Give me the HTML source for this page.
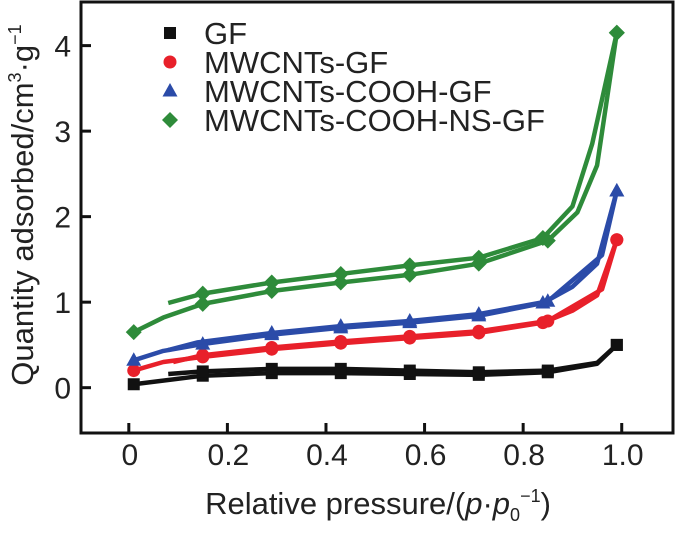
<!DOCTYPE html>
<html><head><meta charset="utf-8"><style>
body{margin:0;background:#fff}
svg{display:block;font-family:"Liberation Sans",Arial,sans-serif}
</style></head><body>
<svg id="c" width="677" height="534"></svg>
<script>
const xTicks=[0,0.2,0.4,0.6,0.8,1.0];
const xTickLabels=["0","0.2","0.4","0.6","0.8","1.0"];
const yTicks=[0,1,2,3,4];
const yTickLabels=["0","1","2","3","4"];
const seriesNames=["GF","MWCNTs-GF","MWCNTs-COOH-GF","MWCNTs-COOH-NS-GF"];
const markedX=[0.01,0.15,0.29,0.43,0.57,0.71,0.84,0.85,0.99];
const gfAdsX=[0.01,0.15,0.29,0.43,0.57,0.71,0.85,0.95,0.99];
const gfAdsY=[0.04,0.14,0.17,0.17,0.16,0.15,0.18,0.28,0.5];
const gfDesX=[0.99,0.95,0.85,0.71,0.57,0.43,0.29,0.15,0.08];
const gfDesY=[0.5,0.29,0.2,0.18,0.2,0.22,0.22,0.19,0.16];
const redAdsX=[0.01,0.07,0.15,0.29,0.43,0.57,0.71,0.84,0.9,0.95,0.99];
const redAdsY=[0.2,0.3,0.36,0.45,0.52,0.58,0.64,0.76,0.9,1.08,1.73];
const redDesX=[0.99,0.96,0.85,0.71,0.57,0.43,0.29,0.15,0.09];
const redDesY=[1.73,1.15,0.78,0.66,0.6,0.54,0.47,0.38,0.3];
const blueAdsX=[0.01,0.07,0.15,0.29,0.43,0.57,0.71,0.84,0.9,0.95,0.99];
const blueAdsY=[0.32,0.43,0.51,0.62,0.7,0.76,0.84,0.99,1.18,1.45,2.3];
const blueDesX=[0.99,0.96,0.85,0.71,0.57,0.43,0.29,0.14,0.08];
const blueDesY=[2.3,1.55,1.01,0.86,0.78,0.72,0.64,0.53,0.44];
const greenAdsX=[0.01,0.07,0.15,0.29,0.43,0.57,0.71,0.85,0.91,0.95,0.99];
const greenAdsY=[0.65,0.82,0.98,1.13,1.23,1.32,1.45,1.72,2.05,2.6,4.15];
const greenDesX=[0.99,0.94,0.9,0.84,0.71,0.57,0.43,0.29,0.15,0.08];
const greenDesY=[4.15,2.85,2.12,1.75,1.52,1.43,1.33,1.23,1.1,0.99];

const NS="http://www.w3.org/2000/svg";
const svg=document.getElementById('c');
const X0=81,X1=673,Y0=2,Y1=433;
const xmin=-0.097,xmax=1.104,ymin=-0.53,ymax=4.51;
const sx=v=>X0+(v-xmin)/(xmax-xmin)*(X1-X0);
const sy=v=>Y1-(v-ymin)/(ymax-ymin)*(Y1-Y0);
function mk(t,a,p){const e=document.createElementNS(NS,t);for(const k in a)e.setAttribute(k,a[k]);(p||svg).appendChild(e);return e;}

const frame=mk('rect',{x:X0,y:Y0,width:X1-X0,height:Y1-Y0,fill:'none',stroke:'#111','stroke-width':3});



xTicks.forEach((v,i)=>{
  const t=mk('line',{x1:sx(v),x2:sx(v),y1:Y1,y2:Y1-10,stroke:'#111','stroke-width':3});
  
  
  const l=mk('text',{x:sx(v)+1,y:465,'font-size':30,'text-anchor':'middle',fill:'#222'});
  l.textContent=xTickLabels[i];
  
  
});
yTicks.forEach((v,i)=>{
  const t=mk('line',{x1:X0,x2:X0+10,y1:sy(v),y2:sy(v),stroke:'#111','stroke-width':3});
  
  
  const l=mk('text',{x:71,y:sy(v)+11,'font-size':30,'text-anchor':'end',fill:'#222'});
  l.textContent=yTickLabels[i];
  
  
});

const xt=mk('text',{x:378,y:514,'font-size':31,'text-anchor':'middle',fill:'#222'});
xt.innerHTML='Relative pressure/(<tspan font-style="italic">p</tspan>·<tspan font-style="italic">p</tspan><tspan font-size="18" dy="7">0</tspan><tspan font-size="18" dy="-19">−1</tspan><tspan dy="12">)</tspan>';


const yt=mk('text',{x:0,y:0,'font-size':31,'text-anchor':'middle',fill:'#222',transform:'translate(33,205) rotate(-90)'});
yt.innerHTML='Quantity adsorbed/cm<tspan font-size="18" dy="-12">3</tspan><tspan dy="12">·g</tspan><tspan font-size="18" dy="-12">−1</tspan>';



const colors=['#111111','#e8202a','#2b4ba8','#2e8b3a'];
function marker(kind,x,y,c,g){
  let e;
  if(kind===0)e=mk('rect',{x:x-6,y:y-6,width:12,height:12,fill:c},g);
  else if(kind===1)e=mk('circle',{cx:x,cy:y,r:6.5,fill:c},g);
  else if(kind===2)e=mk('polygon',{points:`${x},${y-8} ${x+7.5},${y+5.5} ${x-7.5},${y+5.5}`,fill:c},g);
  else e=mk('polygon',{points:`${x},${y-8} ${x+8},${y} ${x},${y+8} ${x-8},${y}`,fill:c},g);
  return e;
}
const data=[[gfAdsX,gfAdsY,gfDesX,gfDesY],[redAdsX,redAdsY,redDesX,redDesY],[blueAdsX,blueAdsY,blueDesX,blueDesY],[greenAdsX,greenAdsY,greenDesX,greenDesY]];
const snames=['series-gf','series-mwcnts-gf','series-mwcnts-cooh-gf','series-mwcnts-cooh-ns-gf'];
data.forEach((d,k)=>{
  const g=mk('g',{});
  
  
  [[d[0],d[1]],[d[2],d[3]]].forEach(([xs,ys],j)=>{
    const p=mk('polyline',{points:xs.map((x,i)=>sx(x)+','+sy(ys[i])).join(' '),fill:'none',stroke:colors[k],'stroke-width':4.5,'stroke-linejoin':'round'},g);
    
    
    xs.forEach((x,i)=>{
      if(markedX.includes(x)){
        const m=marker(k,sx(x),sy(ys[i]),colors[k],g);
        
        
      }
    });
  });
});

const lg=mk('g',{});


seriesNames.forEach((n,k)=>{
  const y=33+k*29;
  const m=marker(k,170,y,colors[k],lg);
  
  
  const t=mk('text',{x:204,y:y+11,'font-size':31,fill:'#222'},lg);
  t.textContent=n;
  
  
});
</script>
</body></html>
